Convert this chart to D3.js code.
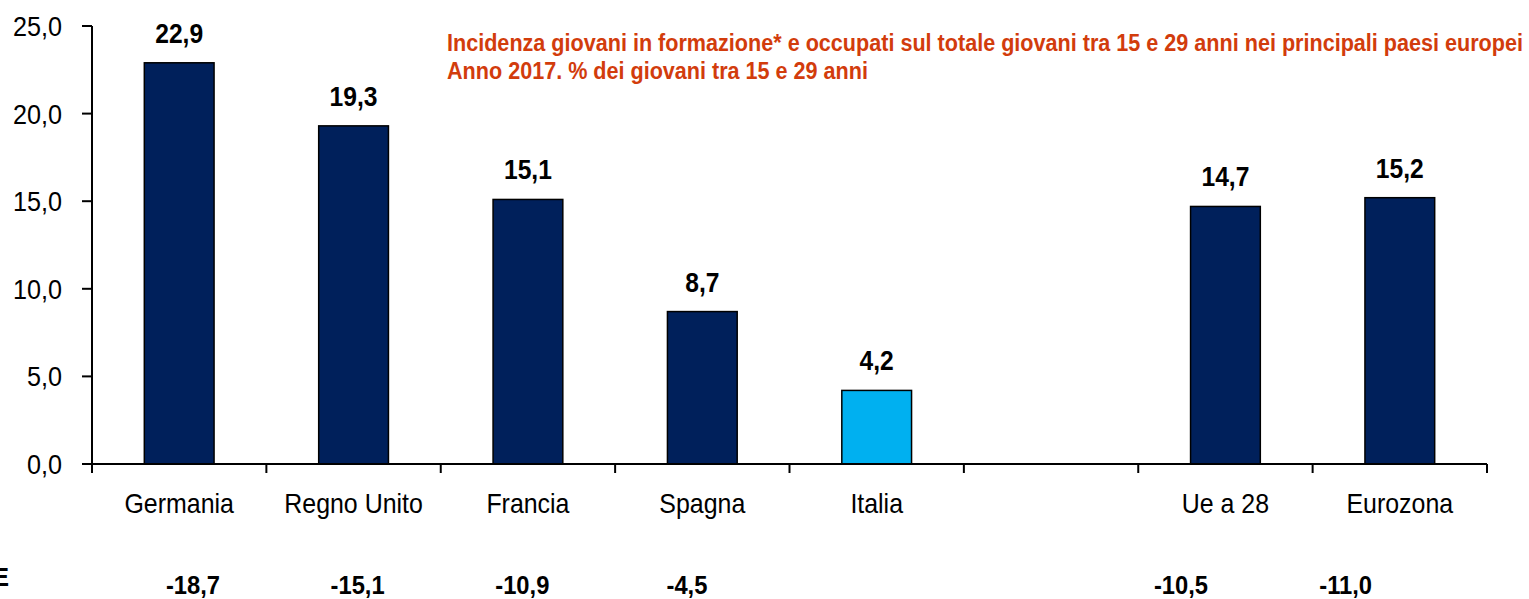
<!DOCTYPE html>
<html>
<head>
<meta charset="utf-8">
<script src="https://cdn.jsdelivr.net/npm/d3@7"></script>
<style>
  body { margin: 0; background: #fff; }
  svg text { font-family: "Liberation Sans", Arial, sans-serif; }
  .axis line { stroke: #000; stroke-width: 2px; }
</style>
</head>
<body>
<div id="chart"></div>
<script>
// chart data
var categories = ["Germania", "Regno Unito", "Francia", "Spagna", "Italia", "", "Ue a 28", "Eurozona"];
var values = [22.9, 19.3, 15.1, 8.7, 4.2, null, 14.7, 15.2];
var differences = [-18.7, -15.1, -10.9, -4.5, null, null, -10.5, -11.0];
var yTicks = [0, 5, 10, 15, 20, 25];
var titleLines = [
    "Incidenza giovani in formazione* e occupati sul totale giovani tra 15 e 29 anni nei principali paesi europei",
    "Anno 2017. % dei giovani tra 15 e 29 anni"
];

var width = 1529, height = 599;
var fmt = function(v) { return d3.format(".1f")(v).replace(".", ",").replace("\u2212", "-"); };

// the original uses a condensed font, so squeeze text horizontally
function place(x, y, sx) {
    return "translate(" + x + "," + y + ") scale(" + sx + ",1)";
}

var svg = d3.select("#chart")
    .append("svg")
    .attr("width", width)
    .attr("height", height);

var idx = categories.map(function(d, i) { return i; });

var x = d3.scaleBand()
    .domain(idx)
    .range([92, 1487])
    .paddingInner(0.6)
    .paddingOuter(0.3);

var slots = d3.scaleBand()
    .domain(idx)
    .range([92, 1487]);

var y = d3.scaleLinear()
    .domain([0, 25])
    .range([464, 26]);

var bars = idx.filter(function(i) { return values[i] !== null; });

// bars
svg.selectAll(".bar")
    .data(bars)
    .enter()
    .append("rect")
    .attr("class", "bar")
    .attr("x", function(i) { return x(i); })
    .attr("y", function(i) { return y(values[i]); })
    .attr("width", x.bandwidth())
    .attr("height", function(i) { return y(0) - y(values[i]); })
    .attr("fill", function(i) { return categories[i] === "Italia" ? "#00B0F0" : "#00205B"; })
    .attr("stroke", "#000")
    .attr("stroke-width", 1.5);

// value labels
svg.selectAll(".val")
    .data(bars)
    .enter()
    .append("text")
    .attr("class", "val")
    .attr("transform", function(i) { return place(x(i) + x.bandwidth() / 2, y(values[i]) - 20, 0.88); })
    .attr("text-anchor", "middle")
    .attr("font-size", "28px")
    .attr("font-weight", "bold")
    .text(function(i) { return fmt(values[i]); });

// y axis
var yAxis = svg.append("g").attr("class", "axis");
yAxis.append("line")
    .attr("x1", 92).attr("x2", 92)
    .attr("y1", y(25)).attr("y2", y(0));
yAxis.selectAll(".ytick")
    .data(yTicks)
    .enter()
    .append("line")
    .attr("x1", 82).attr("x2", 92)
    .attr("y1", function(d) { return y(d); })
    .attr("y2", function(d) { return y(d); });
yAxis.selectAll(".ylab")
    .data(yTicks)
    .enter()
    .append("text")
    .attr("transform", function(d) { return place(62, y(d) + 10, 0.9); })
    .attr("text-anchor", "end")
    .attr("font-size", "28px")
    .text(fmt);

// x axis
var xAxis = svg.append("g").attr("class", "axis");
xAxis.append("line")
    .attr("x1", 92).attr("x2", 1487)
    .attr("y1", y(0)).attr("y2", y(0));
xAxis.selectAll(".xtick")
    .data(d3.range(categories.length + 1))
    .enter()
    .append("line")
    .attr("x1", function(d) { return 92 + d * slots.bandwidth(); })
    .attr("x2", function(d) { return 92 + d * slots.bandwidth(); })
    .attr("y1", y(0)).attr("y2", y(0) + 9);
xAxis.selectAll(".cat")
    .data(idx)
    .enter()
    .append("text")
    .attr("transform", function(i) { return place(x(i) + x.bandwidth() / 2, 513, 0.89); })
    .attr("text-anchor", "middle")
    .attr("font-size", "28px")
    .text(function(i) { return categories[i]; });

// difference row below the chart
var xDiff = d3.scaleBand()
    .domain(idx)
    .range([110.6, 1428]);

svg.selectAll(".diff")
    .data(idx.filter(function(i) { return differences[i] !== null; }))
    .enter()
    .append("text")
    .attr("class", "diff")
    .attr("transform", function(i) { return place(xDiff(i) + xDiff.bandwidth() / 2, 594, 0.95); })
    .attr("text-anchor", "middle")
    .attr("font-size", "25px")
    .attr("font-weight", "bold")
    .text(function(i) { return fmt(differences[i]); });

svg.append("text")
    .attr("x", 9)
    .attr("y", 586)
    .attr("text-anchor", "end")
    .attr("font-size", "26px")
    .attr("font-weight", "bold")
    .text("E");

// title, squeezed to the width it takes in the original
var titleWidths = [1076, 421];
svg.selectAll(".title")
    .data(titleLines)
    .enter()
    .append("text")
    .attr("class", "title")
    .attr("x", 447)
    .attr("y", function(d, i) { return 51 + i * 28; })
    .attr("font-size", "23px")
    .attr("font-weight", "bold")
    .attr("fill", "#D23C0C")
    .attr("textLength", function(d, i) { return titleWidths[i]; })
    .attr("lengthAdjust", "spacingAndGlyphs")
    .text(function(d) { return d; });
</script>
</body>
</html>
